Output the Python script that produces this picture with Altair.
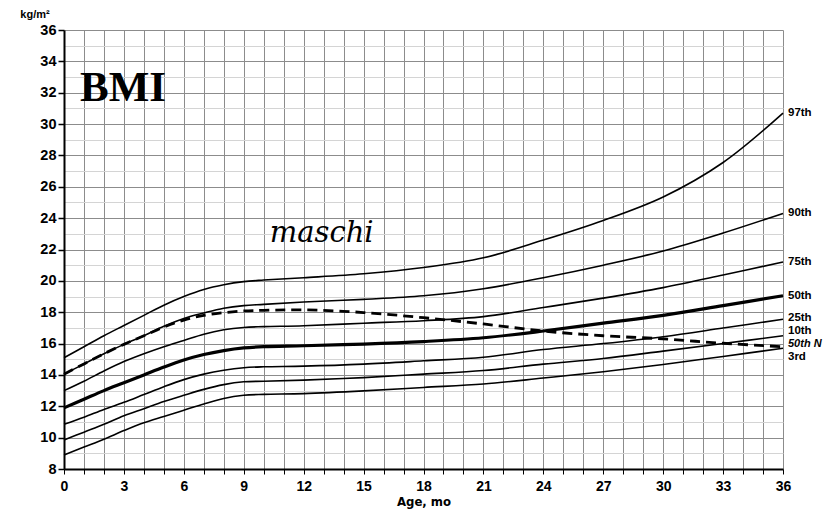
import altair as alt
import pandas as pd

# ---- data ----
ages = [0, 1, 2, 3, 4, 5, 6, 7, 8, 9, 10, 12, 15, 18, 21, 24, 27, 30, 33, 36]
p97 = [15.1, 15.8, 16.5, 17.15, 17.8, 18.45, 19.0, 19.45, 19.75, 19.95, 20.05, 20.2, 20.45, 20.85, 21.47, 22.6, 23.85, 25.35, 27.55, 30.7]
p90 = [14.05, 14.7, 15.35, 15.95, 16.5, 17.1, 17.6, 17.95, 18.25, 18.42, 18.5, 18.65, 18.82, 19.05, 19.5, 20.2, 21.0, 21.9, 23.05, 24.3]
p75 = [13.0, 13.6, 14.25, 14.85, 15.35, 15.8, 16.2, 16.6, 16.88, 17.03, 17.08, 17.14, 17.3, 17.46, 17.72, 18.3, 18.9, 19.57, 20.37, 21.2]
p50 = [11.9, 12.45, 13.0, 13.5, 14.0, 14.5, 14.95, 15.3, 15.55, 15.72, 15.8, 15.86, 15.97, 16.13, 16.37, 16.8, 17.3, 17.8, 18.42, 19.05]
p25 = [10.85, 11.3, 11.8, 12.25, 12.75, 13.25, 13.7, 14.05, 14.3, 14.46, 14.52, 14.56, 14.69, 14.9, 15.13, 15.62, 16.0, 16.44, 16.99, 17.55]
p10 = [9.85, 10.35, 10.85, 11.4, 11.85, 12.3, 12.7, 13.08, 13.38, 13.56, 13.6, 13.67, 13.83, 14.05, 14.28, 14.69, 15.05, 15.52, 16.0, 16.5]
p3 = [8.9, 9.4, 9.9, 10.45, 10.95, 11.35, 11.75, 12.15, 12.5, 12.7, 12.76, 12.81, 12.98, 13.2, 13.42, 13.8, 14.2, 14.67, 15.18, 15.7]
n50 = [14.05, 14.7, 15.35, 15.95, 16.5, 17.05, 17.5, 17.8, 17.97, 18.08, 18.12, 18.15, 17.98, 17.65, 17.25, 16.8, 16.5, 16.3, 16.02, 15.8]

thin_names = ["97th", "90th", "75th", "25th", "10th", "3rd"]
thin_values = [p97, p90, p75, p25, p10, p3]

label_names = ["97th", "90th", "75th", "50th", "25th", "10th", "50th N", "3rd"]
label_bmi = [30.7, 24.3, 21.2, 19.05, 17.65, 16.8, 15.98, 15.15]
label_italic = [False, False, False, False, False, False, True, False]

# ---- tables ----
thin_df = pd.DataFrame(
    [{"age": a, "bmi": v, "series": n} for n, vals in zip(thin_names, thin_values) for a, v in zip(ages, vals)]
)
p50_df = pd.DataFrame({"age": ages, "bmi": p50})
n50_df = pd.DataFrame({"age": ages, "bmi": n50})
lab_df = pd.DataFrame({"name": label_names, "bmi": label_bmi, "it": label_italic})

xscale = alt.Scale(domain=[0, 36], nice=False, zero=False)
yscale = alt.Scale(domain=[8, 36], nice=False, zero=False)

SANS = "Liberation Sans, Arial, sans-serif"
NARROW = "Liberation Sans Narrow, DejaVu Sans Condensed, Liberation Sans, sans-serif"

x_axis = alt.Axis(
    values=list(range(0, 37)),
    labelExpr="datum.value % 3 == 0 ? datum.label : ''",
    grid=True, gridColor="#8c8c8c", gridWidth=1,
    tickColor="black", tickSize=5, tickWidth=1,
    domainColor="black", domainWidth=2,
    labelFont=SANS, labelFontWeight="bold", labelFontSize=14, labelColor="black",
    labelPadding=5, labelFlush=False,
    title="Age, mo", titleFont=NARROW, titleFontWeight="bold", titleFontSize=13,
    titleColor="black", titlePadding=2,
)
y_axis = alt.Axis(
    values=list(range(8, 37)),
    labelExpr="datum.value % 2 == 0 ? datum.label : ''",
    grid=True,
    gridColor={"condition": {"test": "datum.value % 2 == 0", "value": "#8c8c8c"}, "value": "#d4d4d4"},
    tickOpacity={"condition": {"test": "datum.value % 2 == 0", "value": 1}, "value": 0},
    tickColor="black", tickSize=6, tickWidth=1.5,
    domainColor="black", domainWidth=2,
    labelFont=SANS, labelFontWeight="bold", labelFontSize=14.5, labelColor="black",
    labelPadding=2, labelFlush=False,
    title=None,
)

X = alt.X("age:Q", scale=xscale, axis=x_axis)
Y = alt.Y("bmi:Q", scale=yscale, axis=y_axis)

thin = alt.Chart(thin_df).mark_line(color="black", strokeWidth=1.6, interpolate="catmull-rom").encode(
    x=X, y=Y, detail="series:N"
)
bold = alt.Chart(p50_df).mark_line(color="black", strokeWidth=3.2, interpolate="catmull-rom").encode(
    x=X, y=Y
)
dashed = alt.Chart(n50_df).mark_line(
    color="black", strokeWidth=2.8, strokeDash=[10, 6], interpolate="catmull-rom"
).encode(x=X, y=Y)

labels = alt.Chart(lab_df).transform_filter("!datum.it").mark_text(
    align="left", baseline="middle", dx=5, font=SANS, fontWeight="bold", fontSize=11.5, color="black"
).encode(
    x=alt.datum(36, scale=xscale, axis=x_axis),
    y=Y,
    text="name:N",
)
labels_it = alt.Chart(lab_df).transform_filter("datum.it").mark_text(
    align="left", baseline="middle", dx=5, font=SANS, fontWeight="bold", fontStyle="italic",
    fontSize=11, color="black"
).encode(
    x=alt.datum(36, scale=xscale, axis=x_axis),
    y=Y,
    text="name:N",
)

bmi_title = alt.Chart().mark_text(
    text="BMI", align="left", baseline="alphabetic", font="Liberation Serif, Times New Roman, serif",
    fontWeight="bold", fontSize=43, color="black"
).encode(x=alt.datum(0.8, scale=xscale, axis=x_axis), y=alt.datum(31.5, scale=yscale, axis=y_axis))

maschi = alt.Chart().mark_text(
    text="maschi", align="left", baseline="alphabetic", font="DejaVu Serif, serif",
    fontStyle="italic", fontSize=29, color="black"
).encode(x=alt.datum(10.3, scale=xscale, axis=x_axis), y=alt.datum(22.45, scale=yscale, axis=y_axis))

unit = alt.Chart().mark_text(
    text="kg/m²", align="center", baseline="middle", font=SANS, fontWeight="bold", fontSize=11, color="black"
).encode(x=alt.value(-29), y=alt.value(-15))

chart = alt.layer(thin, bold, dashed, labels, labels_it, bmi_title, maschi, unit).properties(
    width=719, height=439,
    padding={"left": 56, "top": 22, "right": 48, "bottom": 40},
    autosize=alt.AutoSizeParams(type="none"),
    background="white",
).configure_view(stroke=None)

chart.save("out.html", embed_options={"renderer": "svg", "actions": False})
